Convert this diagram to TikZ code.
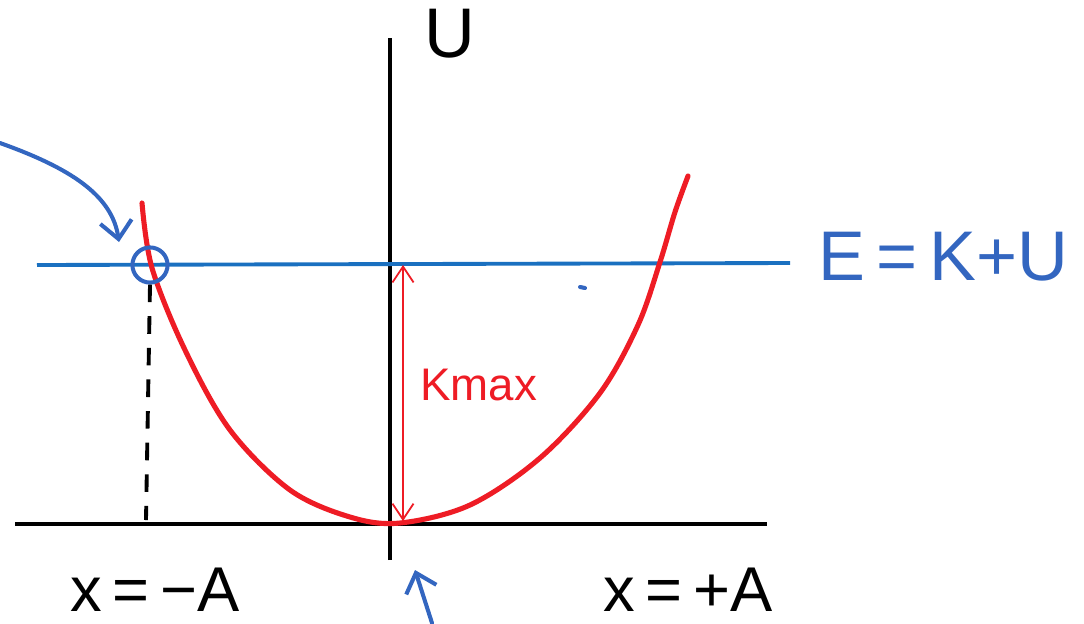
\documentclass[tikz,border=0pt]{standalone}
\usepackage{fontspec}
\setmainfont{Liberation Sans}
\usetikzlibrary{arrows.meta}
\definecolor{penblue}{HTML}{3366C0}
\definecolor{lineblue}{HTML}{1A70C0}
\definecolor{penred}{HTML}{EE1C25}

\begin{document}
\begin{tikzpicture}[x=0.02cm,y=-0.02cm,every node/.style={inner sep=0pt}]
    \tikzset{
      axis/.style={line width=2.6pt,black},
      level/.style={line width=2.2pt,lineblue},
      curve/.style={line width=2.9pt,penred,line cap=round},
      ink/.style={line width=2.3pt,penblue,line cap=round},
      barb/.style={-{Straight Barb[length=10pt,width=18pt]}},
      hand/.style={font=\fontsize{36}{36}\selectfont}
    }
    \useasboundingbox (0,0) rectangle (1084,623);

    % axes
    \coordinate (ytop) at (390,38);
    \coordinate (ybot) at (390,560);
    \coordinate (xl) at (15,524);
    \coordinate (xr) at (767,524);
    \draw[axis] (ybot)--(ytop);
    \draw[axis] (xl)--(xr);
    \node[hand,anchor=west,font=\fontsize{40}{40}\selectfont] (ulab) at (424,34) {U};

    % total energy level
    \coordinate (el) at (37,265);
    \coordinate (er) at (790,263);
    \draw[level] (el)--(er);
    \node[penblue,anchor=west,font=\fontsize{40}{40}\selectfont]
      (elab) at (818,257) {E\,=\,K+U};
    \draw[ink] (580,287)--(585,288);

    % potential energy curve
    \draw[curve] plot[smooth,tension=0.55] coordinates {
      (142,203) (152,268) (185,350) (230,430) (290,490) (350,517)
      (400,523) (470,505) (540,458) (600,393) (638,325) (660,262)
      (675,212) (688,176)};

    % turning point
    \node[draw=penblue,line width=2.3pt,circle,minimum size=20pt]
      (turn) at (150,265) {};
    \coordinate (foot) at (146,520);
    \draw[line width=2.2pt,dash pattern=on 10pt off 8pt] (turn.south)--(foot);
    \coordinate (from) at (0,143);
    \draw[ink,barb] (from) .. controls (70,168) and (112,195) .. (119,242);

    % maximum kinetic energy
    \coordinate (ktop) at (403,265);
    \coordinate (kbot) at (403,521);
    \draw[penred,line width=1pt,{Straight Barb[length=9pt,width=12pt]}-{Straight Barb[length=9pt,width=12pt]}]
      (kbot)--(ktop);
    \node[penred,anchor=west,font=\fontsize{26}{26}\selectfont]
      (kmax) at (420,385) {Kmax};

    % amplitude labels
    \node[hand] (xneg) at (155,590) {x\,=\,−A};
    \node[hand] (xpos) at (688,590) {x\,=\,+A};
    \coordinate (eq) at (432,623);
    \draw[ink,barb] (eq)--(415,570);
\end{tikzpicture}
\end{document}
